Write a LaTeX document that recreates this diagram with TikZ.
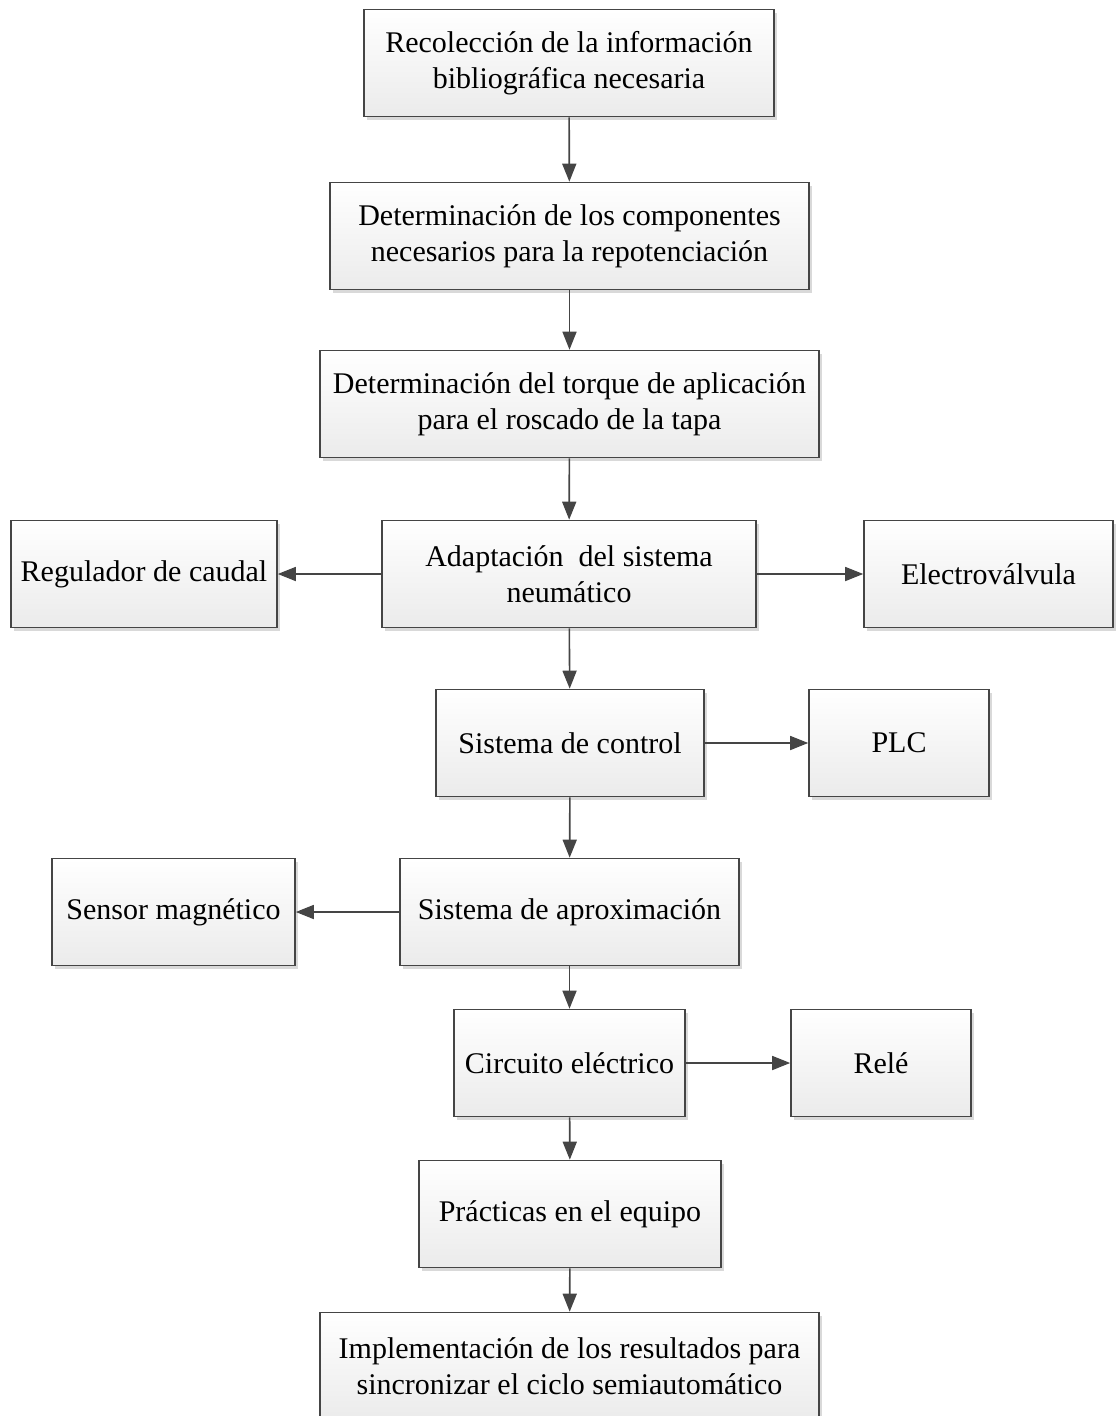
\documentclass[tikz,border=0pt]{standalone}
\usepackage{fontspec}
\setmainfont{Liberation Serif}
\usetikzlibrary{arrows.meta,shadows}
\definecolor{Edge}{HTML}{454545}
\definecolor{BoxBot}{HTML}{EBEBEB}

\begin{document}
\begin{tikzpicture}[x=1pt, y=-1pt, font=\fontsize{30}{36}\selectfont, >={Triangle[length=18pt,width=14pt]}]
\tikzset{b/.style={draw=Edge, line width=1.6pt, align=center, inner sep=4pt, minimum height=107pt, top color=white, bottom color=BoxBot, drop shadow={shadow xshift=3pt, shadow yshift=-3pt, opacity=.3, fill=gray}}, link/.style={->, line width=1.6pt, Edge}}
\useasboundingbox (0,0) rectangle (1118,1416);
% main chain
\node[b, minimum width=410pt] (rec) at (569,63) {Recolección de la información\\bibliográfica necesaria};
\node[b, minimum width=479pt] (comp) at (569.5,236) {Determinación de los componentes\\necesarios para la repotenciación};
\node[b, minimum width=499pt] (torque) at (569.5,404) {Determinación del torque de aplicación\\para el roscado de la tapa};
\node[b, minimum width=374pt] (neum) at (569,574) {Adaptación~ del sistema\\neumático};
\node[b, minimum width=268pt] (ctrl) at (570,743) {Sistema de control};
\node[b, minimum width=339pt] (aprox) at (569.5,912) {Sistema de aproximación};
\node[b, minimum width=231pt] (circ) at (569.5,1063) {Circuito eléctrico};
\node[b, minimum width=302pt] (prac) at (570,1214) {Prácticas en el equipo};
\node[b, minimum width=499pt] (impl) at (569.5,1366) {Implementación de los resultados para\\sincronizar el ciclo semiautomático};
% side boxes
\node[b, minimum width=266pt] (caudal) at (144,574) {Regulador de caudal};
\node[b, minimum width=249pt] (valv) at (988.5,574) {Electroválvula};
\node[b, minimum width=180pt] (plc) at (899,743) {PLC};
\node[b, minimum width=243pt] (sensor) at (173.5,912) {Sensor magnético};
\node[b, minimum width=180pt] (rele) at (881,1063) {Relé};
\foreach \a/\b in {rec/comp,comp/torque,torque/neum,neum/ctrl,ctrl/aprox,aprox/circ,circ/prac,prac/impl} \draw[link] (\a)--(\b);
\draw[link] (neum)--(caudal);
\draw[link] (neum)--(valv);
\draw[link] (ctrl)--(plc);
\draw[link] (aprox)--(sensor);
\draw[link] (circ)--(rele);
\end{tikzpicture}
\end{document}
